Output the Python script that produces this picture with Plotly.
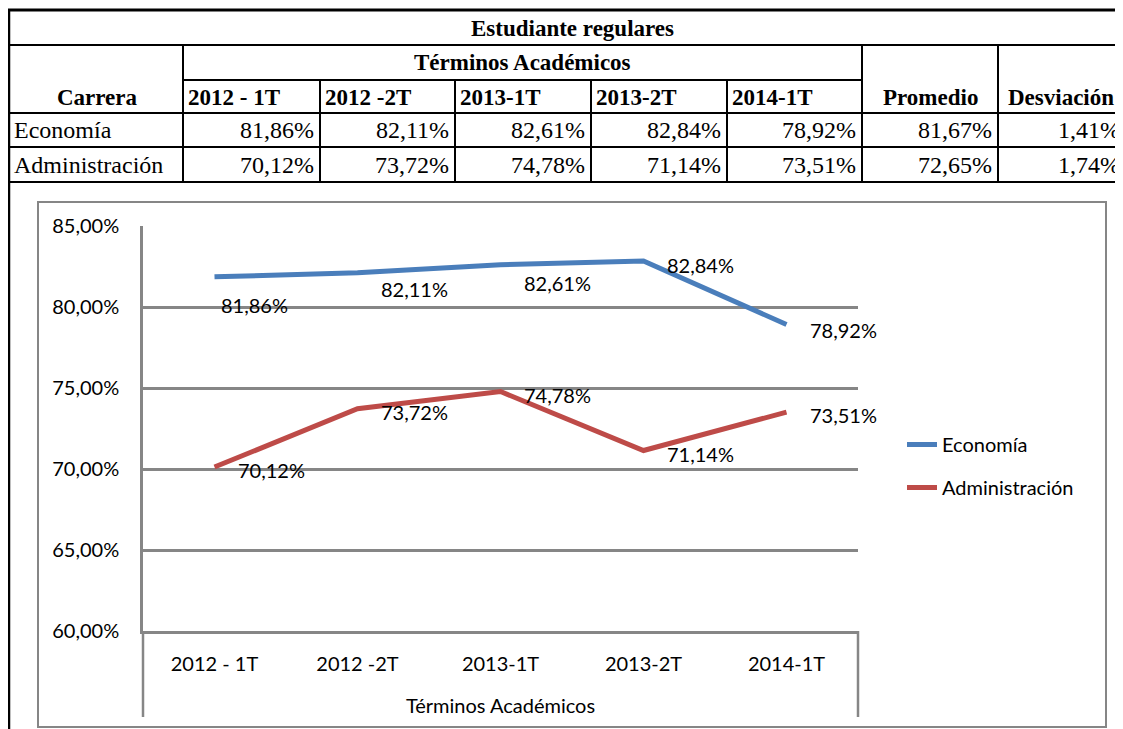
import plotly.graph_objects as go

terminos = ["2012 - 1T", "2012 -2T", "2013-1T", "2013-2T", "2014-1T"]
carreras = ["Economía", "Administración"]
economia = [81.86, 82.11, 82.61, 82.84, 78.92]
administracion = [70.12, 73.72, 74.78, 71.14, 73.51]
promedio = [81.67, 72.65]
desviacion = [1.41, 1.74]

# la pagina tiene 8px de margen en el body -> la figura se corre
OFF = 8
W, H = 1123 - OFF, 729 - OFF
PL, PR, PT, PB = 143, 858, 226, 631   # area del grafico (pixeles de la referencia)

def px_x(x):
    return (x - PL) / (PR - PL)

def px_y(y):
    return (PB - y) / (PB - PT)

def pct(v):
    return f"{v:.2f}%".replace(".", ",")

GRIS = "#868686"
AZUL = "#4A7EBB"
ROJO = "#BE4B48"

fig = go.Figure()
fig.add_trace(go.Scatter(x=terminos, y=economia, mode="lines", name=carreras[0],
                         line=dict(color=AZUL, width=5), legendgroup="a"))
fig.add_trace(go.Scatter(x=terminos, y=administracion, mode="lines", name=carreras[1],
                         line=dict(color=ROJO, width=5), legendgroup="b"))

shapes = []
def seg(x0, y0, x1, y1, color="black", w=2):
    shapes.append(dict(type="line", xref="paper", yref="paper",
                       x0=px_x(x0), y0=px_y(y0), x1=px_x(x1), y1=px_y(y1),
                       line=dict(color=color, width=w)))

##### tabla de arriba
cols = [183, 320, 455, 591, 727, 862, 998, 1128]
seg(8, 10, 1130, 10, w=3)
seg(8, 45, 1130, 45)
seg(183, 80, 862, 80)
for yy in [113, 147, 182]:
    seg(8, yy, 1130, yy)
seg(9, 9, 9, 735, w=2.5)
seg(183, 45, 183, 182)
for xx in cols[1:5]:
    seg(xx, 80, xx, 182)
for xx in [862, 998]:
    seg(xx, 45, xx, 182)

##### marco del grafico
shapes.append(dict(type="rect", xref="paper", yref="paper",
                   x0=px_x(38), y0=px_y(202), x1=px_x(1106), y1=px_y(727),
                   line=dict(color=GRIS, width=2), layer="below"))
seg(PL, PB, PL, 717, color=GRIS, w=2.5)
seg(PR, PB, PR, 717, color=GRIS, w=2.5)

annots = []
serif = "Liberation Serif"
def txt(t, x, y, anchor="center", bold=False, size=24):
    annots.append(dict(text=("<b>%s</b>" % t) if bold else t, xref="paper", yref="paper",
                       x=px_x(x), y=px_y(y), xanchor=anchor, yanchor="middle",
                       showarrow=False, font=dict(family=serif, size=size, color="black")))

txt("Estudiante regulares", 572, 29, bold=True, size=23)
txt("Términos Académicos", 522, 63, bold=True, size=23)
txt("Carrera", 97, 97, bold=True, size=23)
for i, t in enumerate(terminos):
    txt(t, cols[i] + 3, 97, anchor="left", bold=True, size=23)
txt("Promedio", 930, 97, bold=True, size=23)
txt("Desviación", 1006, 97, anchor="left", bold=True, size=23)

filas = [economia, administracion]
for r, nombre in enumerate(carreras):
    yy = 130 + r * 35
    txt(nombre, 12, yy, anchor="left")
    vals = filas[r] + [promedio[r], desviacion[r]]
    for i, v in enumerate(vals):
        xr = cols[i + 1] - 4 if i < 6 else 1122
        txt(pct(v), xr, yy, anchor="right")

##### etiquetas de datos
desp_eco = [(4, 28), (21, 16), (21, 18), (21, 4), (21, 5)]
desp_adm = [(21, 3), (21, 3), (21, 3), (21, 3), (21, 3)]
for serie, desp in [(economia, desp_eco), (administracion, desp_adm)]:
    for t, v, (dx, dy) in zip(terminos, serie, desp):
        annots.append(dict(text=pct(v), x=t, y=v, xref="x", yref="y",
                           xanchor="left", yanchor="middle", xshift=dx, yshift=-dy,
                           showarrow=False, font=dict(family="Lato", size=20, color="black")))

fig.update_layout(
    width=W, height=H, autosize=False,
    margin=dict(l=PL - OFF, r=W - (PR - OFF), t=PT - OFF, b=H - (PB - OFF)),
    template="none",
    paper_bgcolor="white", plot_bgcolor="white",
    separators=",.",
    font=dict(family="Lato", size=20, color="black"),
    shapes=shapes, annotations=annots,
    legend=dict(x=px_x(902), y=px_y(425), xanchor="left", yanchor="top",
                font=dict(family="Lato", size=20, color="black"),
                tracegroupgap=14, bgcolor="rgba(0,0,0,0)"),
    xaxis=dict(type="category", range=[-0.5, len(terminos) - 0.5],
               showgrid=False, showline=True, linecolor=GRIS, linewidth=2.5,
               ticks="", ticklabelstandoff=13, automargin=False,
               title=dict(text="Términos Académicos", standoff=26,
                          font=dict(family="Lato", size=20))),
    yaxis=dict(range=[60, 85], dtick=5, tickformat=".2f", ticksuffix="%",
               showgrid=True, gridcolor=GRIS, gridwidth=2.5,
               showline=True, linecolor=GRIS, linewidth=2.5,
               ticks="", ticklabelstandoff=17, automargin=False, zeroline=False),
)

fig.write_html("out.html")
